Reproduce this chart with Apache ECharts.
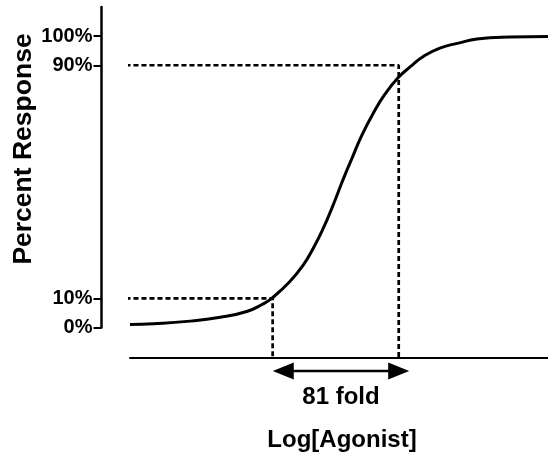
<!DOCTYPE html>
<html>
<head>
<meta charset="utf-8">
<script src="https://cdn.jsdelivr.net/npm/echarts@6/dist/echarts.min.js"></script>
<style>
html,body{margin:0;padding:0;background:#fff;}
#chart{width:548px;height:457px;}
</style>
</head>
<body>
<div id="chart"></div>
<script>
// Curve (Log[Agonist], Percent Response)
const curveX = [-10.0, -9.65, -9.14, -8.64, -8.24, -8.00, -7.86, -7.59, -7.39, -7.24, -7.09, -6.96, -6.87, -6.76, -6.65, -6.51, -6.33, -6.16, -5.96, -5.77, -5.58, -5.33, -5.05, -4.77, -4.27, -3.7];
const curveY = [1.0, 1.3, 2.1, 3.5, 5.5, 8.0, 10.1, 15.8, 21.4, 27.1, 33.9, 40.8, 46.0, 52.4, 58.3, 65.8, 73.7, 80.0, 85.7, 89.6, 93.0, 95.9, 97.6, 99.0, 99.7, 99.9];
const tickValues = [0, 10, 90, 100];
const ec10 = [-7.85, 10];
const ec90 = [-5.95, 90];
const yAxisX = -10.43;   // x value where the (offset) y axis sits
const baseY = -10.4;     // y value where the (offset) x axis sits
const arrowX = [-7.69, -5.95];
const arrowY = -14.9;
const foldLabel = '81 fold';
const xName = 'Log[Agonist]';
const yName = 'Percent Response';

const FONT = "'Liberation Sans', Arial, Helvetica, sans-serif";
const chart = echarts.init(document.getElementById('chart'), null, {renderer: 'canvas'});

const dashStyle = {color: '#000', width: 2.7, type: [5, 3]};

chart.setOption({
  animation: false,
  backgroundColor: '#fff',
  grid: {left: 130, right: 0, top: 7, bottom: 127.5, containLabel: false},
  xAxis: {
    type: 'value', min: -10, max: -3.7,
    offset: 30.5,
    axisLine: {show: true, onZero: false, lineStyle: {color: '#000', width: 2}},
    axisTick: {show: false},
    axisLabel: {show: false},
    splitLine: {show: false},
    name: xName, nameLocation: 'middle', nameGap: 70,
    nameTextStyle: {color: '#000', fontFamily: FONT, fontWeight: 'bold', fontSize: 24, padding: [0, 0, 0, 6]}
  },
  yAxis: {
    type: 'value', min: 0, max: 110,
    offset: 28.5,
    axisLine: {show: true, onZero: false, lineStyle: {color: '#000', width: 2.5}},
    axisTick: {show: true, customValues: tickValues, length: 8, lineStyle: {color: '#000', width: 2}},
    axisLabel: {show: true, customValues: tickValues, margin: 9, formatter: '{value}%',
      color: '#000', fontFamily: FONT, fontWeight: 'bold', fontSize: 20},
    splitLine: {show: false}
  },
  series: [
    {
      type: 'line', name: 'curve', clip: false, silent: true,
      data: curveX.map((x, i) => [x, curveY[i]]),
      smooth: 0.5, showSymbol: false, symbol: 'none',
      lineStyle: {color: '#000', width: 3}
    },
    {
      type: 'line', name: 'ec10', clip: false, silent: true, symbol: 'none',
      data: [[yAxisX, ec10[1]], [ec10[0], ec10[1]], [ec10[0], baseY]],
      lineStyle: dashStyle
    },
    {
      type: 'line', name: 'ec90', clip: false, silent: true, symbol: 'none',
      data: [[yAxisX, ec90[1]], [ec90[0], ec90[1]], [ec90[0], baseY]],
      lineStyle: dashStyle
    },
    {
      type: 'line', name: 'arrow', clip: false, silent: true,
      data: [
        {value: [arrowX[0], arrowY], symbol: 'triangle', symbolRotate: 90},
        {value: [arrowX[1], arrowY], symbol: 'triangle', symbolRotate: -90}
      ],
      showSymbol: true, symbolSize: [17, 21],
      itemStyle: {color: '#000'},
      lineStyle: {color: '#000', width: 2.5}
    }
  ],
  graphic: [
    {type: 'text', x: 341, y: 397,
     style: {text: foldLabel, align: 'center', verticalAlign: 'middle',
       font: "bold 24px " + FONT, fill: '#000'}},
    {type: 'text', x: 24, y: 149, rotation: Math.PI / 2,
     style: {text: yName, align: 'center', verticalAlign: 'middle',
       font: "bold 26.5px " + FONT, fill: '#000'}}
  ]
});
</script>
</body>
</html>
